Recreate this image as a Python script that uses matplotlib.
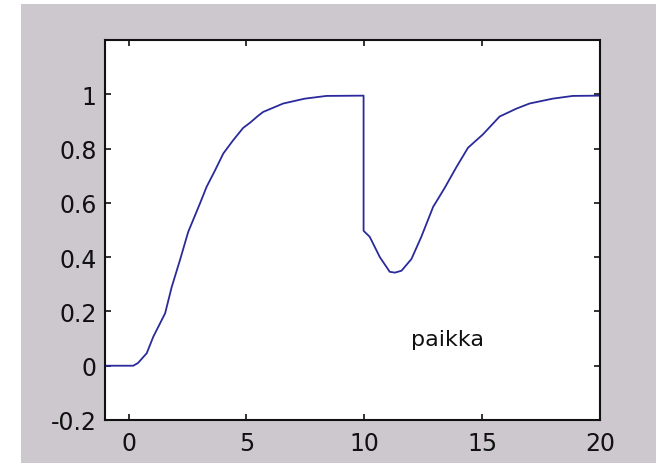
import matplotlib
matplotlib.use("Agg")
import matplotlib.pyplot as plt
from matplotlib.patches import Rectangle

# data (time, position)
t = [-1.0, 0.2, 0.4, 0.77, 1.05, 1.55, 1.83, 2.18, 2.53, 3.03, 3.31, 3.67,
     4.02, 4.44, 4.86, 5.15, 5.5, 5.71, 6.56, 7.48, 8.4, 9.97,
     9.97, 10.23, 10.66, 11.08, 11.3, 11.58, 12.0, 12.42, 12.92, 13.41,
     13.91, 14.4, 15.03, 15.74, 16.45, 17.01, 18.0, 18.85, 20.0]
paikka = [0.0, 0.0, 0.01, 0.046, 0.107, 0.193, 0.29, 0.389, 0.493, 0.598, 0.659, 0.72,
          0.782, 0.831, 0.876, 0.895, 0.921, 0.935, 0.966, 0.984, 0.994, 0.995,
          0.497, 0.475, 0.40, 0.346, 0.343, 0.35, 0.393, 0.475, 0.585, 0.655,
          0.732, 0.803, 0.852, 0.918, 0.947, 0.966, 0.984, 0.994, 0.995]

xticks = [0, 5, 10, 15, 20]
yticks = [-0.2, 0, 0.2, 0.4, 0.6, 0.8, 1]
ytick_labels = ["-0.2", "0", "0.2", "0.4", "0.6", "0.8", "1"]

plt.rcParams["font.family"] = ["DejaVu Sans"]

fig = plt.figure(figsize=(6.56, 4.64), dpi=100, facecolor="white")
# grey window background with a thin white strip on the left and top
fig.patches.append(Rectangle((21 / 656, 0), 1 - 21 / 656, 459 / 464,
                             transform=fig.transFigure, facecolor="#CDC8CE",
                             edgecolor="none", zorder=-10))

ax = fig.add_axes([105 / 656, 43 / 464, 495 / 656, 380 / 464])
ax.set_zorder(5)
ax.set_facecolor("white")
ax.plot(t, paikka, color="#2A2A9C", linewidth=1.3)

ax.set_xlim(-1, 20)
ax.set_ylim(-0.2, 1.2)
ax.set_xticks(xticks)
ax.set_yticks(yticks)
ax.set_yticklabels(ytick_labels)

ax.tick_params(direction="in", length=4, width=1.2, top=True, right=True,
               labelsize=17, colors="#111111")
ax.tick_params(axis="x", pad=8)
ax.tick_params(axis="y", pad=6)
for s in ax.spines.values():
    s.set_linewidth(1.5)
    s.set_color("#111111")

ax.text(12.0, 0.1, "paikka", fontsize=16, va="center", ha="left", color="#111111")

fig.savefig("out.png", dpi=100, facecolor=fig.get_facecolor())
